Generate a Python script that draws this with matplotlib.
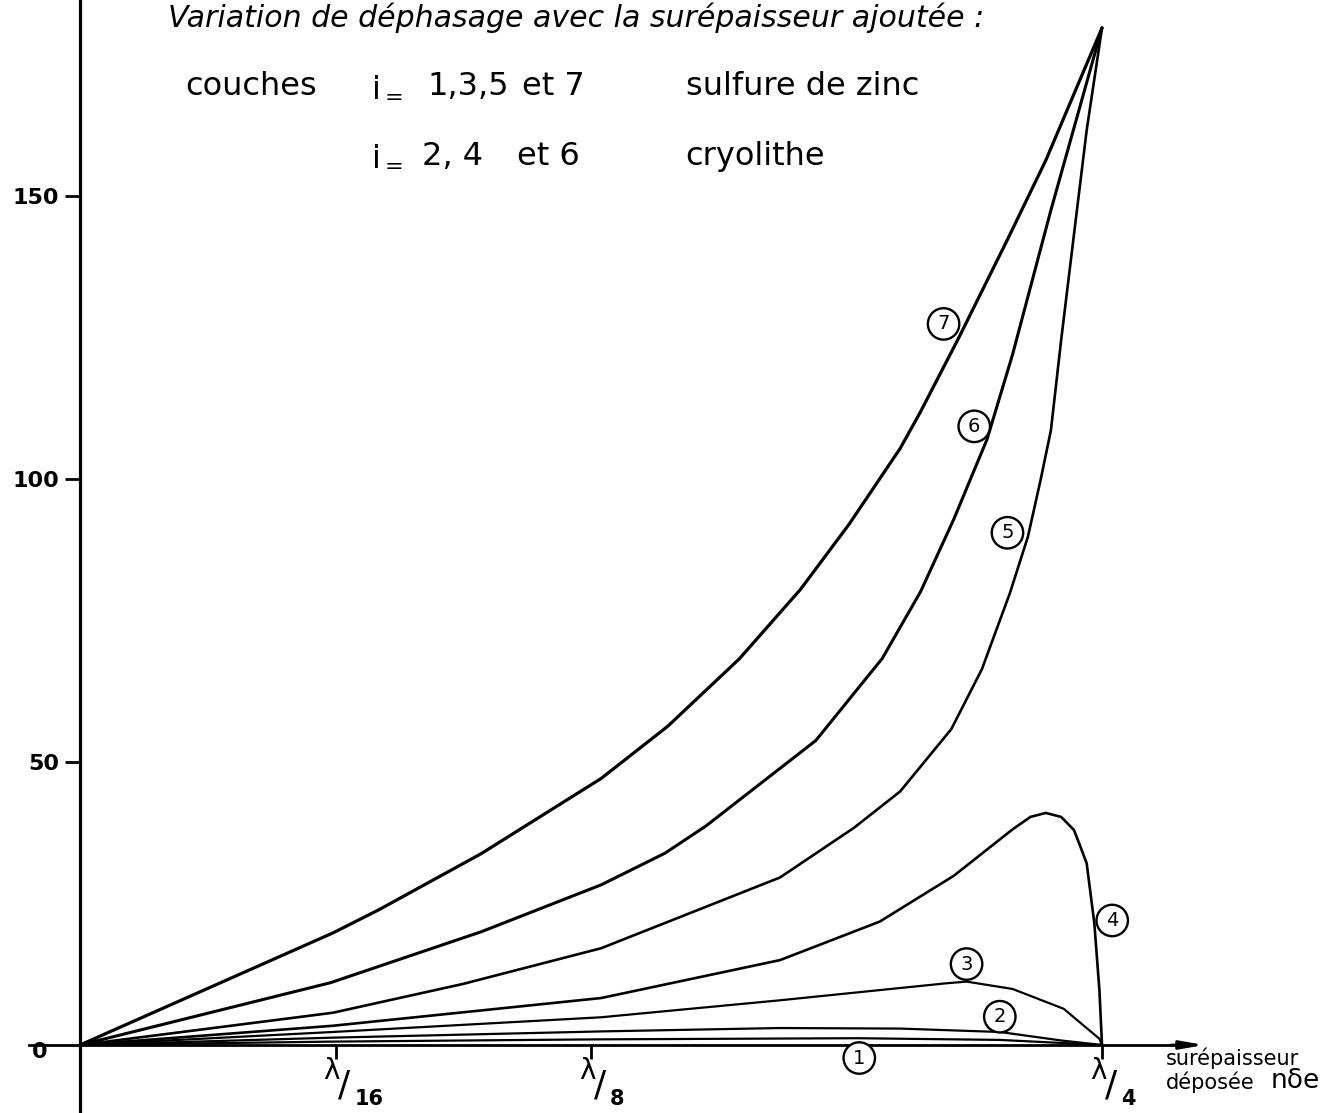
import matplotlib.pyplot as plt

# abscissa in units of lambda/16 (0 -> 4 = lambda/4), ordinate = dephasage
x1 = [0, 0.99, 2.04, 3.04, 3.60, 4.0]
y1 = [0, 0.6, 1.0, 1.2, 0.9, 0]

x2 = [0, 0.99, 2.04, 2.74, 3.21, 3.60, 3.84, 4.0]
y2 = [0, 1.3, 2.4, 3.0, 2.9, 2.3, 0.8, 0]

x3 = [0, 0.99, 2.04, 2.74, 3.13, 3.39, 3.47, 3.65, 3.85, 3.99, 4.0]
y3 = [0, 2.3, 4.9, 7.9, 9.7, 10.9, 11.2, 9.9, 6.4, 1.1, 0]

x4 = [0, 0.99, 2.04, 2.74, 3.13, 3.42, 3.65, 3.72, 3.78, 3.84, 3.89, 3.91, 3.94, 3.97, 3.99, 4.0]
y4 = [0, 3.4, 8.3, 15.0, 21.8, 29.9, 38.1, 40.3, 41.0, 40.3, 38.0, 35.7, 32.1, 21.5, 9.6, 0]

x5 = [0, 0.99, 1.50, 2.04, 2.74, 3.03, 3.21, 3.41, 3.53, 3.64, 3.71, 3.76, 3.80, 3.84, 3.89, 3.94, 4.0]
y5 = [0, 5.7, 10.8, 17.1, 29.6, 38.4, 44.8, 55.8, 66.4, 79.9, 89.8, 99.9, 108.6, 124.5, 143.1, 161.6, 179.7]

x6 = [0, 0.98, 1.57, 2.04, 2.29, 2.45, 2.88, 3.14, 3.29, 3.42, 3.55, 3.65, 3.80, 3.91, 4.0]
y6 = [0, 11.0, 20.0, 28.3, 33.9, 38.7, 53.8, 68.3, 80.1, 92.9, 107.0, 122.0, 147.5, 165.2, 179.7]

x7 = [0, 0.56, 0.99, 1.17, 1.57, 2.04, 2.30, 2.58, 2.82, 3.01, 3.21, 3.29, 3.44, 3.63, 3.78, 4.0]
y7 = [0, 11.2, 19.8, 23.9, 33.8, 47.1, 56.3, 68.2, 80.5, 92.0, 105.4, 111.9, 125.0, 142.3, 156.3, 179.7]

curve_names = ['1', '2', '3', '4', '5', '6', '7']
label_x = [3.05, 3.60, 3.47, 4.04, 3.63, 3.50, 3.38]
label_y = [-2.3, 5.0, 14.3, 22.0, 90.5, 109.3, 127.4]

y_ticks = [50, 100, 150]
x_ticks = [1, 2, 4]
x_tick_num = ['16', '8', '4']

fig = plt.figure(figsize=(13.35, 11.13), dpi=100)
ax = fig.add_axes([0, 0, 1, 1])
ax.set_xlim(-80 / 255.5, 1255 / 255.5)
ax.set_ylim(-68 / 5.66, 1045 / 5.66)

for xs, ys, lw in [(x1, y1, 1.6), (x2, y2, 1.6), (x3, y3, 1.6), (x4, y4, 1.9),
                   (x5, y5, 1.9), (x6, y6, 2.2), (x7, y7, 2.3)]:
    ax.plot(xs, ys, color='black', lw=lw, solid_capstyle='round', solid_joinstyle='round')

for name, lx, ly in zip(curve_names, label_x, label_y):
    ax.text(lx, ly, name, fontsize=14, ha='center', va='center',
            bbox=dict(boxstyle='circle,pad=0.32', fc='white', ec='black', lw=1.7), zorder=5)

# axes
for s in ['top', 'right']:
    ax.spines[s].set_visible(False)
ax.spines['left'].set_position(('data', 0))
ax.spines['bottom'].set_position(('data', 0))
ax.spines['left'].set_linewidth(2.3)
ax.spines['bottom'].set_linewidth(2.0)
ax.spines['bottom'].set_bounds(-0.2, 4.3)
ax.annotate('', xy=(4.41, 0), xytext=(4.26, 0),
            arrowprops=dict(arrowstyle='-|>,head_length=1.4,head_width=0.25', color='black', lw=2))

ax.set_yticks(y_ticks)
ax.set_yticklabels([str(v) for v in y_ticks], fontsize=16, fontweight='bold')
ax.tick_params(axis='y', direction='out', length=11, width=2, pad=4)
ax.set_xticks(x_ticks)
ax.set_xticklabels([])
ax.tick_params(axis='x', direction='out', length=10, width=2)

# slanted fractions lambda / n under the ticks
for xt, num in zip(x_ticks, x_tick_num):
    ax.text(xt - 0.015, -4.6, 'λ', fontsize=20, ha='center', va='center')
    ax.text(xt + 0.035, -7.2, '/', fontsize=26, ha='center', va='center')
    ax.text(xt + 0.075, -9.6, num, fontsize=15, fontweight='bold', ha='left', va='center')
ax.text(-0.157, -1.2, '0', fontsize=16, fontweight='bold', ha='center', va='center')

ax.text(4.25, -2.4, 'surépaisseur', fontsize=15, ha='left', va='center')
ax.text(4.25, -6.5, 'déposée', fontsize=15, ha='left', va='center')
ax.text(4.66, -6.3, 'nδe', fontsize=19, ha='left', va='center')

# title and legend text
ax.text(0.344, 179.9, 'Variation de déphasage avec la surépaisseur ajoutée :',
        fontsize=21.6, style='italic', ha='left', va='baseline')
ax.text(0.41, 167.8, 'couches', fontsize=23, ha='left', va='baseline')
ax.text(1.14, 167.8, r'i$_{=}$', fontsize=23, ha='left', va='baseline')
ax.text(1.36, 167.8, '1,3,5', fontsize=23, ha='left', va='baseline')
ax.text(1.73, 167.8, 'et 7', fontsize=23, ha='left', va='baseline')
ax.text(2.37, 167.8, 'sulfure de zinc', fontsize=23, ha='left', va='baseline')
ax.text(1.14, 155.5, r'i$_{=}$', fontsize=23, ha='left', va='baseline')
ax.text(1.34, 155.5, '2, 4', fontsize=23, ha='left', va='baseline')
ax.text(1.71, 155.5, 'et 6', fontsize=23, ha='left', va='baseline')
ax.text(2.37, 155.5, 'cryolithe', fontsize=23, ha='left', va='baseline')

fig.savefig('out.png', dpi=100)
